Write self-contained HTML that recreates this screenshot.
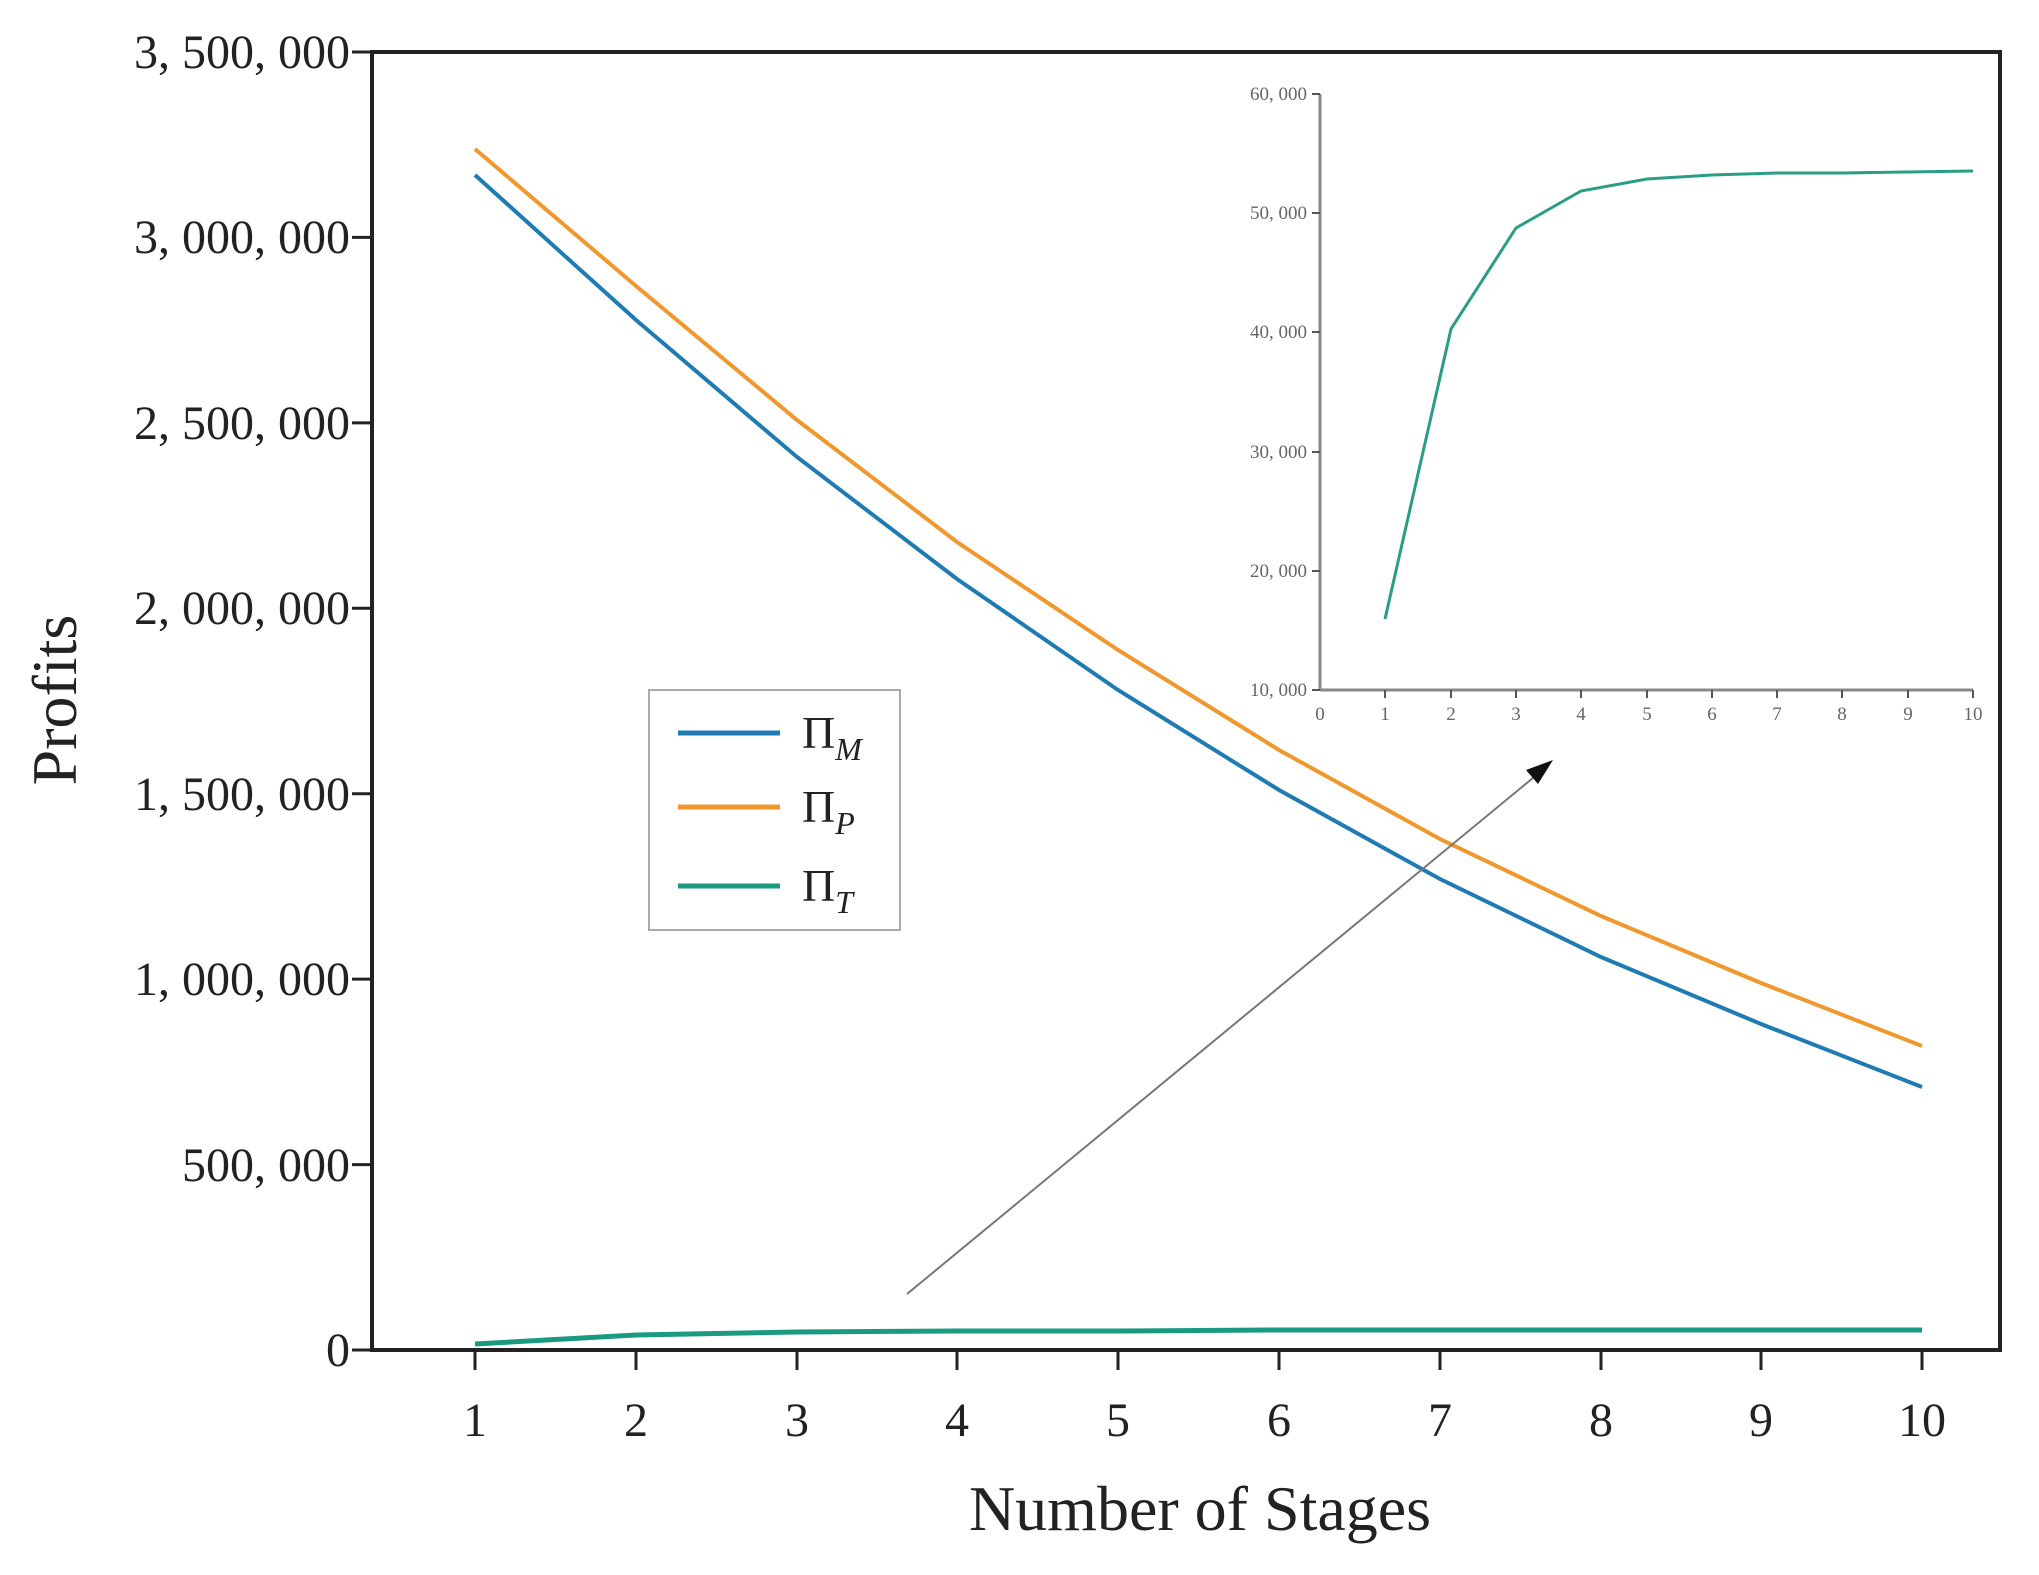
<!DOCTYPE html>
<html><head><meta charset="utf-8"><style>body{margin:0;background:#fff}svg{display:block}</style></head><body>
<svg width="2039" height="1575" viewBox="0 0 2039 1575" xmlns="http://www.w3.org/2000/svg" font-family="Liberation Serif, serif">
<rect x="372" y="52" width="1628" height="1298" fill="none" stroke="#222" stroke-width="4"/>
<g stroke="#222" stroke-width="3">
<line x1="352" y1="52" x2="372" y2="52"/><line x1="352" y1="237.4" x2="372" y2="237.4"/><line x1="352" y1="422.9" x2="372" y2="422.9"/><line x1="352" y1="608.3" x2="372" y2="608.3"/><line x1="352" y1="793.7" x2="372" y2="793.7"/><line x1="352" y1="979.1" x2="372" y2="979.1"/><line x1="352" y1="1164.6" x2="372" y2="1164.6"/><line x1="352" y1="1350" x2="372" y2="1350"/>
<line x1="475" y1="1350" x2="475" y2="1370"/><line x1="636" y1="1350" x2="636" y2="1370"/><line x1="797" y1="1350" x2="797" y2="1370"/><line x1="957" y1="1350" x2="957" y2="1370"/><line x1="1118" y1="1350" x2="1118" y2="1370"/><line x1="1279" y1="1350" x2="1279" y2="1370"/><line x1="1440" y1="1350" x2="1440" y2="1370"/><line x1="1601" y1="1350" x2="1601" y2="1370"/><line x1="1761" y1="1350" x2="1761" y2="1370"/><line x1="1922" y1="1350" x2="1922" y2="1370"/>
</g>
<g font-size="48" fill="#222" text-anchor="end">
<text x="350" y="68">3, 500, 000</text><text x="350" y="253">3, 000, 000</text><text x="350" y="439">2, 500, 000</text><text x="350" y="624">2, 000, 000</text><text x="350" y="810">1, 500, 000</text><text x="350" y="995">1, 000, 000</text><text x="350" y="1181">500, 000</text><text x="350" y="1366">0</text>
</g>
<g font-size="48" fill="#222" text-anchor="middle">
<text x="475" y="1436">1</text><text x="636" y="1436">2</text><text x="797" y="1436">3</text><text x="957" y="1436">4</text><text x="1118" y="1436">5</text><text x="1279" y="1436">6</text><text x="1440" y="1436">7</text><text x="1601" y="1436">8</text><text x="1761" y="1436">9</text><text x="1922" y="1436">10</text>
</g>
<text x="1200" y="1530" font-size="64" text-anchor="middle" fill="#222">Number of Stages</text>
<text transform="translate(76,700) rotate(-90)" font-size="64" text-anchor="middle" fill="#222">Profits</text>
<polyline fill="none" stroke="#f0982d" stroke-width="4" points="475,149 636,286 797,420 957,542 1118,650 1279,750 1440,839 1601,916 1761,983 1922,1046"/>
<polyline fill="none" stroke="#1f7bb4" stroke-width="4" points="475,175 636,320 797,457 957,579 1118,690 1279,790 1440,879 1601,957 1761,1024 1922,1087"/>
<polyline fill="none" stroke="#1a9a80" stroke-width="5" points="475,1344 636,1335 797,1332 957,1331 1118,1331 1279,1330 1440,1330 1601,1330 1761,1330 1922,1330"/>
<line x1="907" y1="1294" x2="1545" y2="768" stroke="#777" stroke-width="2"/>
<path d="M1553,760 L1526,770 L1538,784 z" fill="#111"/>
<rect x="649" y="690" width="251" height="240" fill="#fff" stroke="#aaa" stroke-width="2"/>
<line x1="678" y1="733" x2="780" y2="733" stroke="#1f7bb4" stroke-width="5"/>
<line x1="678" y1="807" x2="780" y2="807" stroke="#f0982d" stroke-width="5"/>
<line x1="678" y1="886" x2="780" y2="886" stroke="#1a9a80" stroke-width="5"/>
<g font-size="46" fill="#222"><text x="802" y="748">Π<tspan font-size="32" font-style="italic" dy="12">M</tspan></text><text x="802" y="822">Π<tspan font-size="32" font-style="italic" dy="12">P</tspan></text><text x="802" y="901">Π<tspan font-size="32" font-style="italic" dy="12">T</tspan></text></g>
<g stroke="#888" stroke-width="3"><line x1="1320" y1="94" x2="1320" y2="690"/><line x1="1320" y1="690" x2="1973" y2="690"/></g>
<g stroke="#555" stroke-width="2">
<line x1="1312" y1="94" x2="1320" y2="94"/><line x1="1312" y1="213" x2="1320" y2="213"/><line x1="1312" y1="332" x2="1320" y2="332"/><line x1="1312" y1="452" x2="1320" y2="452"/><line x1="1312" y1="571" x2="1320" y2="571"/><line x1="1312" y1="690" x2="1320" y2="690"/>
<line x1="1385" y1="690" x2="1385" y2="698"/><line x1="1451" y1="690" x2="1451" y2="698"/><line x1="1516" y1="690" x2="1516" y2="698"/><line x1="1581" y1="690" x2="1581" y2="698"/><line x1="1647" y1="690" x2="1647" y2="698"/><line x1="1712" y1="690" x2="1712" y2="698"/><line x1="1777" y1="690" x2="1777" y2="698"/><line x1="1842" y1="690" x2="1842" y2="698"/><line x1="1908" y1="690" x2="1908" y2="698"/><line x1="1973" y1="690" x2="1973" y2="698"/>
</g>
<g font-size="19" fill="#666" text-anchor="end">
<text x="1307" y="100">60, 000</text><text x="1307" y="219">50, 000</text><text x="1307" y="338">40, 000</text><text x="1307" y="458">30, 000</text><text x="1307" y="577">20, 000</text><text x="1307" y="696">10, 000</text>
</g>
<g font-size="19" fill="#666" text-anchor="middle">
<text x="1320" y="720">0</text><text x="1385" y="720">1</text><text x="1451" y="720">2</text><text x="1516" y="720">3</text><text x="1581" y="720">4</text><text x="1647" y="720">5</text><text x="1712" y="720">6</text><text x="1777" y="720">7</text><text x="1842" y="720">8</text><text x="1908" y="720">9</text><text x="1973" y="720">10</text>
</g>
<polyline fill="none" stroke="#2a9d85" stroke-width="3" points="1385,619 1451,329 1516,228 1581,191 1647,179 1712,175 1777,173 1842,173 1908,172 1973,171"/>
</svg>
</body></html>
